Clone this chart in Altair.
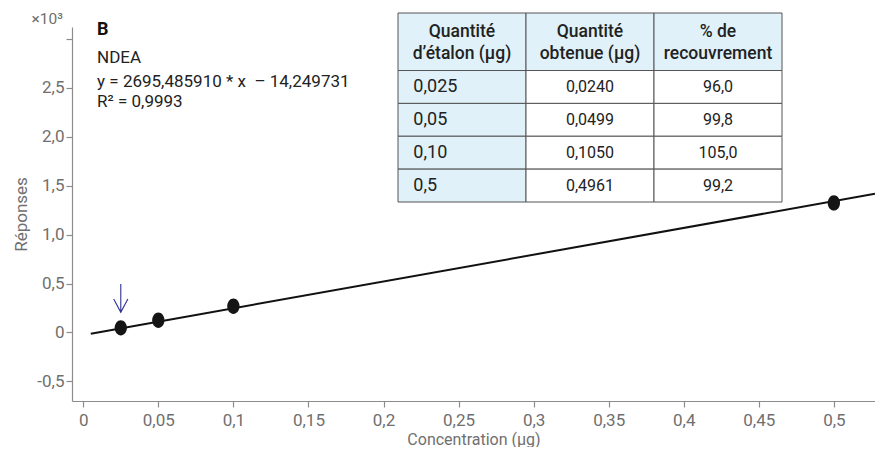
import altair as alt
import pandas as pd

# ---------------- data ----------------
conc = [0.025, 0.05, 0.10, 0.5]
resp = [0.047, 0.125, 0.268, 1.323]          # réponses (x10^3)

fit_x = [0.005, 0.5274]
fit_y = [-0.012, 1.416]

arrow_x = [0.025]
arrow_y = [0.35]

ann_title = ["B"]
ann_lines = ["NDEA", "y = 2695,485910 * x \u00a0\u2013 14,249731", "R\u00b2 = 0,9993"]
ann_lines_y = [2.80, 2.56, 2.355]
ann_x = 0.0092
ann_title_y = 3.09

tbl_header = ["Quantit\u00e9\nd\u2019\u00e9talon (\u00b5g)", "Quantit\u00e9\nobtenue (\u00b5g)", "% de\nrecouvrement"]
tbl_standard = ["0,025", "0,05", "0,10", "0,5"]
tbl_obtained = ["0,0240", "0,0499", "0,1050", "0,4961"]
tbl_recovery = ["96,0", "99,8", "105,0", "99,2"]

x_ticks = [0, 0.05, 0.1, 0.15, 0.2, 0.25, 0.3, 0.35, 0.4, 0.45, 0.5]
y_ticks = [-0.5, -0.25, 0, 0.25, 0.5, 0.75, 1.0, 1.25, 1.5, 1.75, 2.0, 2.25, 2.5, 2.75, 3.0]

# ---------------- styles ----------------
FONT = "Roboto"
GREY = "#6f6f6f"
AXIS_GREY = "#8c8c8c"
BLUE_FILL = "#e0f1fa"
BORDER = "#555555"
TEXT_DARK = "#222222"

W, H = 803, 374
xdom = [-0.0075, 0.5274]
ydom = [-0.70, 3.12]

xs = alt.Scale(domain=xdom, nice=False, zero=False)
ys = alt.Scale(domain=ydom, nice=False, zero=False)

pts = pd.DataFrame({"x": conc, "y": resp})
fit = pd.DataFrame({"x": fit_x, "y": fit_y})
arr = pd.DataFrame({"x": arrow_x, "y": arrow_y})
ann1 = pd.DataFrame({"x": [ann_x], "y": [ann_title_y], "t": ann_title})
ann2 = pd.DataFrame({"x": [ann_x] * len(ann_lines), "y": ann_lines_y, "t": ann_lines})
mult = pd.DataFrame({"x": [-0.0135], "y": [3.20], "t": ["\u00d710\u00b3"]})

x_label_expr = "replace(toString(round(datum.value*100)/100), '.', ',')"
y_label_expr = ("datum.value == 0 ? '0' : ((abs(datum.value*2 - round(datum.value*2)) < 0.001 && datum.value <= 2.5) "
                "? replace(replace(format(datum.value, '.1f'), '.', ','), '\u2212', '-') : '')")

line = alt.Chart(fit).mark_line(color="#111111", strokeWidth=2).encode(
    x=alt.X("x:Q", scale=xs, title="Concentration (\u00b5g)",
            axis=alt.Axis(values=x_ticks, labelExpr=x_label_expr, grid=False, titleFontSize=16)),
    y=alt.Y("y:Q", scale=ys, title="R\u00e9ponses",
            axis=alt.Axis(values=y_ticks, labelExpr=y_label_expr, grid=False)),
)

ellipse = "M -0.8 0 A 0.8 1 0 1 0 0.8 0 A 0.8 1 0 1 0 -0.8 0 Z"
points = alt.Chart(pts).mark_point(shape=ellipse, filled=True, size=235, color="#151515", opacity=1).encode(
    x=alt.X("x:Q", scale=xs), y=alt.Y("y:Q", scale=ys)
)

arrow_path = "M 0 -1 L 0 1 M -0.5 0.05 L 0 1 L 0.5 0.05"
arrow = alt.Chart(arr).mark_point(shape=arrow_path, filled=False, size=800, stroke="#2e3192",
                                  strokeWidth=1.1, opacity=1).encode(
    x=alt.X("x:Q", scale=xs), y=alt.Y("y:Q", scale=ys)
)

t_b = alt.Chart(ann1).mark_text(align="left", baseline="middle", font=FONT, fontSize=18,
                                fontWeight="bold", color="#111111").encode(
    x=alt.X("x:Q", scale=xs), y=alt.Y("y:Q", scale=ys), text="t:N")
t_lines = alt.Chart(ann2).mark_text(align="left", baseline="middle", font=FONT, fontSize=17,
                                    color="#222222").encode(
    x=alt.X("x:Q", scale=xs), y=alt.Y("y:Q", scale=ys), text="t:N")
t_mult = alt.Chart(mult).mark_text(align="right", baseline="middle", font=FONT, fontSize=15.5,
                                   color=GREY).encode(
    x=alt.X("x:Q", scale=xs), y=alt.Y("y:Q", scale=ys), text="t:N")

main = alt.layer(line, points, arrow, t_b, t_lines, t_mult)

# ---------------- table ----------------
HEADER_H = 1.75
cells = []
texts_head, texts_first, texts_other = [], [], []
for c, h in enumerate(tbl_header):
    cells.append({"x0": c, "x1": c + 1, "y0": 0, "y1": HEADER_H, "fill": BLUE_FILL})
    texts_head.append({"x": c + 0.5, "y": HEADER_H / 2, "t": h})
for r in range(len(tbl_standard)):
    y0 = HEADER_H + r
    for c in range(3):
        cells.append({"x0": c, "x1": c + 1, "y0": y0, "y1": y0 + 1,
                      "fill": BLUE_FILL if c == 0 else "#ffffff"})
    texts_first.append({"x": 0.12, "y": y0 + 0.5, "t": tbl_standard[r]})
    texts_other.append({"x": 1.5, "y": y0 + 0.5, "t": tbl_obtained[r]})
    texts_other.append({"x": 2.5, "y": y0 + 0.5, "t": tbl_recovery[r]})

n_rows = HEADER_H + len(tbl_standard)
txs = alt.Scale(domain=[0, 3], range=[326, 710], nice=False, zero=False)
tys = alt.Scale(domain=[0, n_rows], range=[-14, 175], nice=False, zero=False)

rects = alt.Chart(pd.DataFrame(cells)).mark_rect(stroke=BORDER, strokeWidth=1).encode(
    x=alt.X("x0:Q", scale=txs, axis=None), x2="x1:Q",
    y=alt.Y("y0:Q", scale=tys, axis=None), y2="y1:Q",
    fill=alt.Fill("fill:N", scale=None),
)
th = alt.Chart(pd.DataFrame(texts_head)).mark_text(
    align="center", baseline="middle", font=FONT, fontSize=17.5, fontWeight=500,
    color=TEXT_DARK, lineBreak="\n", lineHeight=22, dy=-10).encode(
    x=alt.X("x:Q", scale=txs, axis=None), y=alt.Y("y:Q", scale=tys, axis=None), text="t:N")
tf = alt.Chart(pd.DataFrame(texts_first)).mark_text(
    align="left", baseline="middle", font=FONT, fontSize=18, color=TEXT_DARK).encode(
    x=alt.X("x:Q", scale=txs, axis=None), y=alt.Y("y:Q", scale=tys, axis=None), text="t:N")
to = alt.Chart(pd.DataFrame(texts_other)).mark_text(
    align="center", baseline="middle", font=FONT, fontSize=16, color=TEXT_DARK).encode(
    x=alt.X("x:Q", scale=txs, axis=None), y=alt.Y("y:Q", scale=tys, axis=None), text="t:N")

table = alt.layer(rects, th, tf, to)

chart = alt.layer(main, table).resolve_scale(x="independent", y="independent").properties(
    width=W, height=H,
    autosize=alt.AutoSizeParams(type="none"),
    padding={"left": 64, "top": 19, "right": 0, "bottom": 46},
).configure_view(stroke=None).configure_axis(
    domainColor=AXIS_GREY, tickColor=AXIS_GREY, labelColor=GREY, titleColor=GREY,
    labelFont=FONT, titleFont=FONT, labelFontSize=17, titleFontSize=17,
    titleFontWeight="normal", tickSize=6, domainWidth=1.2, tickWidth=1.2,
).configure_axisX(labelPadding=5, titlePadding=3).configure_axisY(labelPadding=2, titlePadding=6)

chart.save("out.html", embed_options={"renderer": "svg", "actions": False})
